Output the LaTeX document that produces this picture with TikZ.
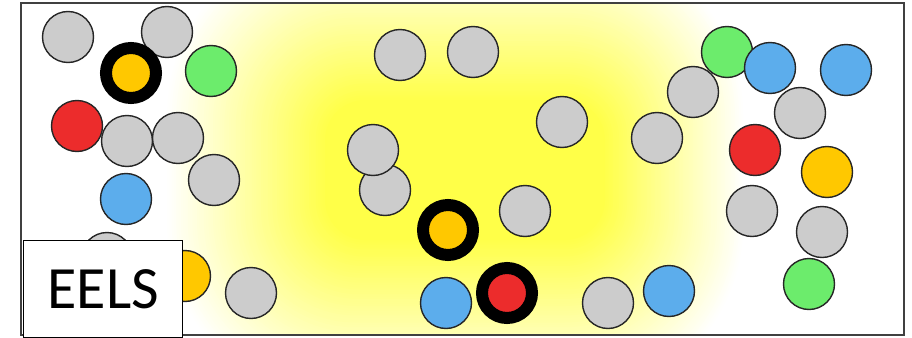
\documentclass[tikz,border=0pt]{standalone}
\usepackage{fontspec}
\newfontfamily\calib{Carlito}
\definecolor{glowY}{RGB}{255,255,72}
\definecolor{ballgray}{RGB}{204,204,204}
\definecolor{ballgreen}{RGB}{108,236,108}
\definecolor{ballblue}{RGB}{92,173,236}
\definecolor{ballred}{RGB}{236,44,44}
\definecolor{ballyellow}{RGB}{255,200,0}
\tikzset{
  ball/.style={circle, draw=black!85, line width=1.4pt, minimum size=51pt, inner sep=0pt},
  grayball/.style={ball, fill=ballgray},
  greenball/.style={ball, fill=ballgreen},
  blueball/.style={ball, fill=ballblue},
  redball/.style={ball, fill=ballred},
  yellowball/.style={ball, fill=ballyellow},
  ringball/.style={circle, draw=black, line width=12pt, minimum size=50pt, inner sep=0pt},
  labelbox/.style={draw=black, line width=1.3pt, fill=white, inner sep=0pt,
    minimum width=159pt, minimum height=97pt, anchor=north west,
    font=\calib\fontsize{60}{72}\selectfont}
}
\begin{document}
\begin{tikzpicture}[x=1pt,y=-1pt]
\useasboundingbox (0,0) rectangle (912,337);
\fill[white] (0,0) rectangle (912,337);
% glow
\begin{scope}
\clip (21,3) rectangle (904,335);
\foreach \i in {0,...,70}{
  \pgfmathsetmacro\s{1-\i/70}
  \pgfmathtruncatemacro\p{100*\i/70}
  \fill[glowY!\p!white, rounded corners=40+140*\s]
    (325-160*\s,100-165*\s) rectangle (605+140*\s,240+165*\s);
}
\end{scope}
\draw[line width=1.6pt, draw=black!75] (21,3) rectangle (904,335);
% left group
\node[grayball] (c1) at (68,37) {};
\node[grayball] (c2) at (167,32) {};
\node[ringball, fill=ballyellow] (r1) at (131,73) {};
\node[greenball] (c3) at (211,71) {};
\node[redball] (c4) at (77,126) {};
\node[grayball] (c5) at (127,141) {};
\node[grayball] (c6) at (178,138) {};
\node[grayball] (c7) at (214,180) {};
\node[blueball] (c8) at (126,199) {};
\node[grayball] (c9) at (107,258) {};
\node[yellowball] (c10) at (185,276) {};
\node[grayball] (c11) at (251,293) {};
% middle group
\node[grayball] (c12) at (400,55) {};
\node[grayball] (c13) at (473,52) {};
\node[grayball] (c14) at (562,122) {};
\node[grayball] (c15) at (385,190) {};
\node[grayball] (c16) at (373,150) {};
\node[ringball, fill=ballyellow] (r2) at (448,230) {};
\node[grayball] (c17) at (525,211) {};
\node[blueball] (c18) at (446,303) {};
\node[ringball, fill=ballred] (r3) at (507,293) {};
\node[grayball] (c19) at (608,303) {};
% right group
\node[grayball] (c20) at (693,92) {};
\node[greenball] (c21) at (727,52) {};
\node[blueball] (c22) at (770,68) {};
\node[blueball] (c23) at (846,70) {};
\node[grayball] (c24) at (800,113) {};
\node[grayball] (c25) at (657,138) {};
\node[redball] (c26) at (755,150) {};
\node[yellowball] (c27) at (827,172) {};
\node[grayball] (c28) at (752,211) {};
\node[grayball] (c29) at (822,232) {};
\node[greenball] (c30) at (809,284) {};
\node[blueball] (c31) at (669,291) {};
% label
\node[labelbox] (eels) at (23,240) {EELS};
\end{tikzpicture}
\end{document}
